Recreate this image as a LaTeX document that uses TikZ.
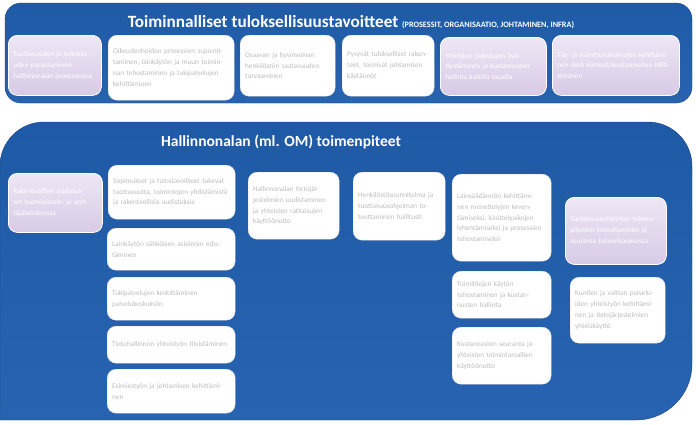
\documentclass[tikz,border=0pt]{standalone}
\usepackage{fontspec}
\setmainfont{Carlito}

\definecolor{paneltop}{HTML}{2763B0}
\definecolor{panelbot}{HTML}{1F5AA6}
\definecolor{paneledge}{HTML}{18448A}
\definecolor{lilatop}{HTML}{EEE7F5}
\definecolor{lilabot}{HTML}{D8CAE6}
\definecolor{boxtext}{HTML}{BDBDBD}

\begin{document}
\begin{tikzpicture}[x=1pt,y=-1pt,
    whitebox/.style={draw=black!12,fill=white,rounded corners=9pt,anchor=north west,
      inner sep=5pt,align=left,text=boxtext,font=\fontsize{7.2}{10.8}\selectfont},
    lilabox/.style={whitebox,draw=white,thick,top color=lilatop,bottom color=lilabot,text=white},
    sz/.style 2 args={text width=#1pt,minimum height=#2pt},
    paneltitle/.style={text=white,font=\bfseries\fontsize{15.5}{18}\selectfont,inner sep=0pt}]
  \useasboundingbox (0,0) rectangle (696,424);

  % panels
  \path[draw=paneledge,top color=panelbot,bottom color=paneltop,rounded corners=16pt]
    (5,3) rectangle (692,103);
  \path[draw=paneledge,top color=panelbot,bottom color=paneltop]
    (0,420) [rounded corners=44pt] -- (0,122) -- (692,122) [rounded corners=56pt] -- (692,420) [sharp corners] -- cycle;

  \node[paneltitle,font=\bfseries\fontsize{17.2}{20}\selectfont] (title1) at (351,22) {Toiminnalliset tuloksellisuustavoitteet {\fontsize{8.2}{12}\selectfont (PROSESSIT, ORGANISAATIO, JOHTAMINEN, INFRA)}};
  \node[paneltitle] (title2) at (281,142) {Hallinnonalan (ml. OM) toimenpiteet};

  % upper row
  \begin{scope}[every node/.style={whitebox}]
    \node[sz={116}{65}] (t2) at (108,35) {Oikeudenhoidon prosessien sujuvoittaminen, lainkäytön ja muun toiminnan tehostaminen ja tukipalvelujen kehittäminen};
    \node[sz={85}{61}] (t3) at (240,35) {Osaavan ja hyvinvoivan henkilöstön saatavuuden turvaaminen};
    \node[sz={82}{61}] (t4) at (342,35) {Pysyvät tulokselliset rakenteet, toimivat johtamisen käytännöt};
  \end{scope}
  \begin{scope}[every node/.style={lilabox}]
    \node[sz={83}{60}] (t1) at (8,35) {Tuottavuuden ja tehokkuuden parantaminen hallinnonalan prosesseissa};
    \node[sz={96}{58}] (t5) at (440,37) {Yhteisten palvelujen hyödyntäminen ja kustannusten hallinta kaikilla tasoilla};
    \node[sz={117}{60}] (t6) at (552,35) {Tila- ja toimitilaratkaisujen kehittäminen sekä kiinteistökustannusten hillitseminen};
  \end{scope}

  % lower area
  \begin{scope}[every node/.style={whitebox}]
    \node[sz={117}{54}] (c2a) at (108,165) {Sopimukset ja tulostavoitteet tukevat tuottavuutta, toimintojen yhdistämistä ja rakenteellisia uudistuksia};
    \node[sz={118}{42}] (c2b) at (107,228) {Lainkäytön sähköisen asioinnin edistäminen};
    \node[sz={118}{43}] (c2c) at (107,277) {Tukipalvelujen keskittäminen palvelukeskuksiin};
    \node[sz={118}{37}] (c2d) at (107,326) {Tietohallinnon yhteistyön tiivistäminen};
    \node[sz={118}{44}] (c2e) at (107,369) {Esimiestyön ja johtamisen kehittäminen};
    \node[sz={81}{67}] (c3) at (248,172) {Hallinnonalan tietojärjestelmien uudistaminen ja yhteisten ratkaisujen käyttöönotto};
    \node[sz={82}{68}] (c4) at (353,172) {Henkilöstösuunnitelma ja tuottavuusohjelman toteuttaminen hallitusti};
    \node[sz={89}{87}] (c5a) at (452,174) {Lainsäädännön kehittäminen menettelyjen keventämiseksi, käsittelyaikojen lyhentämiseksi ja prosessien tehostamiseksi};
    \node[sz={89}{47}] (c5b) at (452,271) {Toimitilojen käytön tehostaminen ja kustannusten hallinta};
    \node[sz={89}{57}] (c5c) at (452,327) {Kustannusten seuranta ja yhteisten toimintamallien käyttöönotto};
    \node[sz={85}{66}] (c6b) at (570,277) {Kuntien ja valtion palveluiden yhteistyön kehittäminen ja tietojärjestelmien yhteiskäyttö};
  \end{scope}
  \begin{scope}[every node/.style={lilabox}]
    \node[sz={84}{59}] (h1) at (8,173) {Rakenteelliset uudistukset tuomioistuin- ja syyttäjälaitoksessa};
    \node[sz={91}{67}] (c6a) at (565,197) {Tuottavuusohjelman toimenpiteiden toteuttaminen ja seuranta tulosohjauksessa};
  \end{scope}
\end{tikzpicture}
\end{document}
